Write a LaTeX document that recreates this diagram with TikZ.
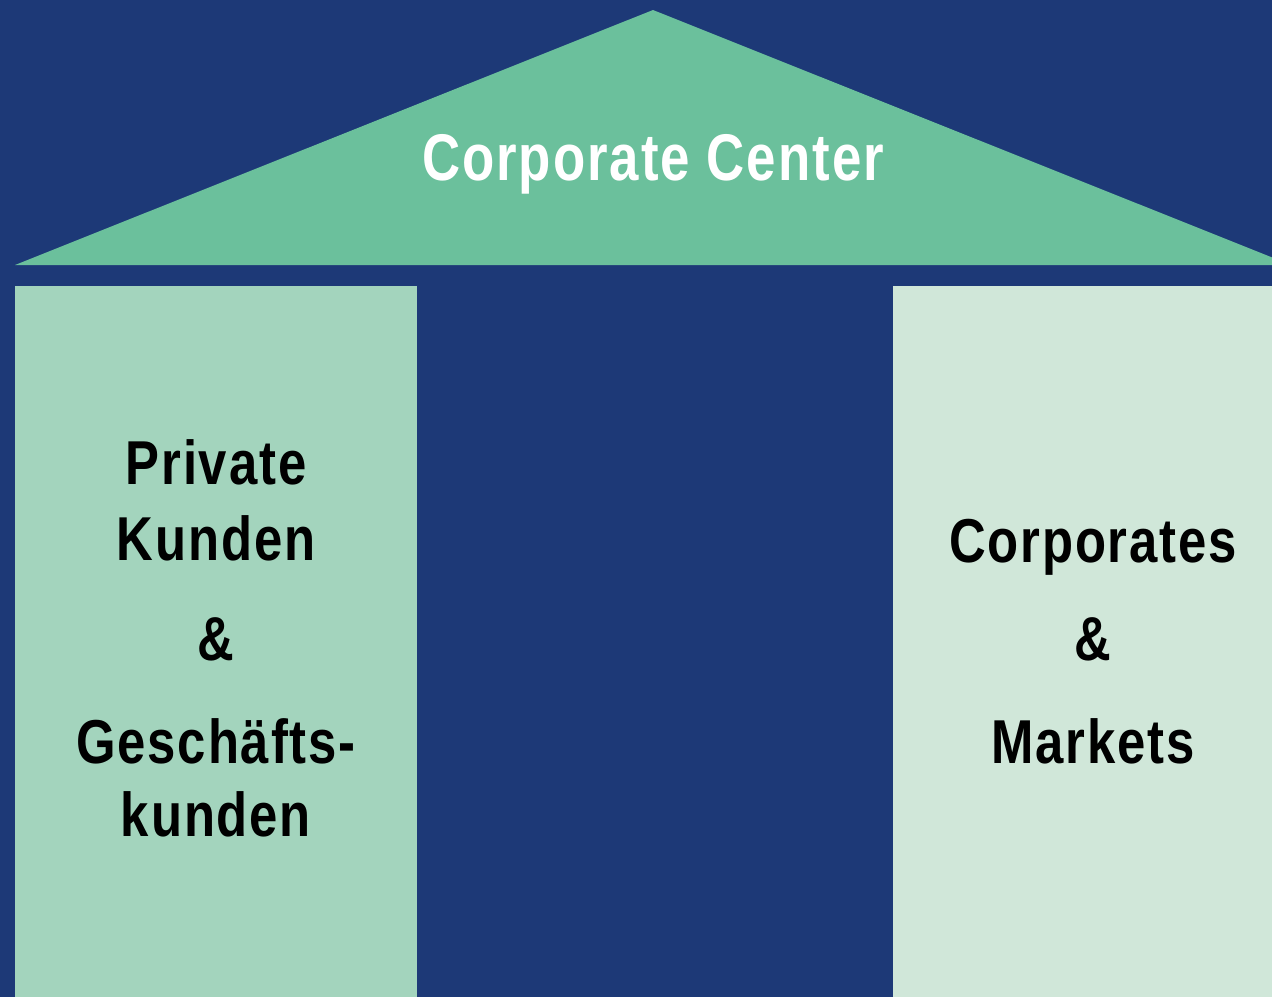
\documentclass[tikz,border=0pt]{standalone}
\usepackage{fontspec}
\setmainfont{Liberation Sans}[FakeStretch=0.82,LetterSpace=3]
\newfontfamily\roofFont{Liberation Sans}[FakeStretch=0.8,LetterSpace=3]
\usepackage{tikz}
\usetikzlibrary{calc}
\definecolor{navy}{HTML}{1D3977}
\definecolor{roof}{HTML}{6BC09C}
\definecolor{pillarA}{HTML}{A3D4BD}
\definecolor{pillarB}{HTML}{D0E7D9}

\begin{document}
\begin{tikzpicture}[x=1pt,y=-1pt,
  lbl/.style={anchor=base,font=\bfseries\fontsize{62}{62}\selectfont}]
\useasboundingbox (0,0) rectangle (1272,997);
\fill[navy] (0,0) rectangle (1272,997);
\begin{scope}
\clip (0,0) rectangle (1272,997);
\fill[roof] (15,265) -- (653,10) -- (1291,265) -- cycle;
\end{scope}
\fill[pillarA] (15,286) rectangle (417,997);
\fill[pillarB] (893,286) rectangle (1272,997);
\node[lbl,text=white,font=\roofFont\bfseries\fontsize{66}{66}\selectfont] (center) at (653,180) {Corporate Center};
\node[lbl] (priv) at (216,484) {Private};
\node[lbl] (kund) at (216,560) {Kunden};
\node[lbl] (amp1) at (216,660) {\&};
\node[lbl] (gesch) at (216,763) {Geschäfts-};
\node[lbl] (kund2) at (216,836) {kunden};
\node[lbl] (corp) at (1093,562) {Corporates};
\node[lbl] (amp2) at (1093,660) {\&};
\node[lbl] (mark) at (1093,763) {Markets};
\end{tikzpicture}
\end{document}
